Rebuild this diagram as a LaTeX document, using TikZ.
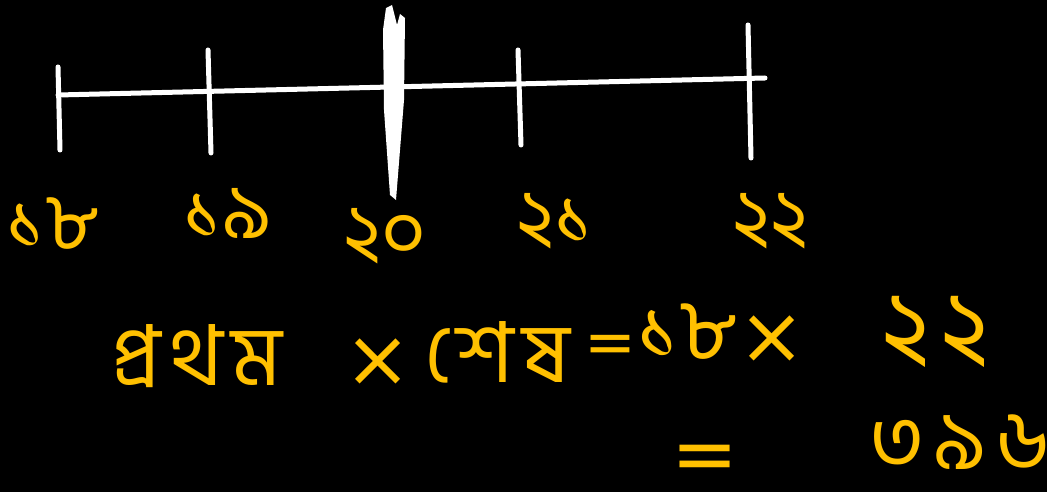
\documentclass[tikz,border=0pt]{standalone}
\usepackage{fontspec}
\newfontfamily\bn[Script=Bengali]{Hind Siliguri}
\newfontfamily\bnw[Script=Bengali,LetterSpace=10]{Hind Siliguri}
\newfontfamily\symf{DejaVu Sans}
\definecolor{chalk}{RGB}{255,192,0}
\begin{document}
\begin{tikzpicture}[x=1pt,y=-1pt,
  stroke/.style={draw=white,line width=5pt,line cap=round},
  lbl/.style={text=chalk,font=\bn\fontsize{78}{78}\selectfont,inner sep=0pt,anchor=base},
  eq/.style={text=chalk,font=\bnw\fontsize{84}{84}\selectfont,inner sep=0pt,anchor=base,text depth=0pt},
  sym/.style={text=chalk,font=\symf\fontsize{80}{80}\selectfont,inner sep=0pt,anchor=base,text height=0.7em,text depth=0pt}]
\fill[black] (0,0) rectangle (1047,492);
\useasboundingbox (0,0) rectangle (1047,492);
% number line
\coordinate (L) at (58,95);
\coordinate (R) at (765,78);
\draw[stroke] (L) -- (R);
% ticks
\draw[stroke] (58,67) -- (60,150);
\draw[stroke] (208,50) -- (211,153);
\fill[white] (383,30) -- (386,8) -- (392,5) -- (397,25) -- (400,14) -- (405,18) -- (404,100) -- (396,200) -- (390,195) -- (384,110) -- cycle;
\draw[stroke] (518,50) -- (521,145);
\draw[stroke] (748,25) -- (751,158);
% labels
\node[lbl] (n18) at (53,248) {১৮};
\node[lbl] (n19) at (228,238) {১৯};
\node[lbl] (n20) at (385,258) {২০};
\node[lbl] (n21) at (555,243) {২১};
\node[lbl] (n22) at (770,243) {২২};
% equation
\node[eq] (first) at (197,385) {প্রথম};
\node[sym] (times) at (378,386) {×};
\node[eq] (last) at (497,382) {শেষ};
\node[sym,font=\symf\fontsize{62}{62}\selectfont] (eq1) at (610,363) {=};
\node[eq,font=\bn\fontsize{84}{84}\selectfont] (a18) at (687,358) {১৮};
\node[sym] (times2) at (772,363) {×};
\node[eq,font=\bnw\fontsize{100}{100}\selectfont] (a22) at (935,360) {২২};
\node[sym] (eq2) at (705,481) {=};
\node[eq] (res) at (960,469) {৩৯৬};
\end{tikzpicture}
\end{document}
